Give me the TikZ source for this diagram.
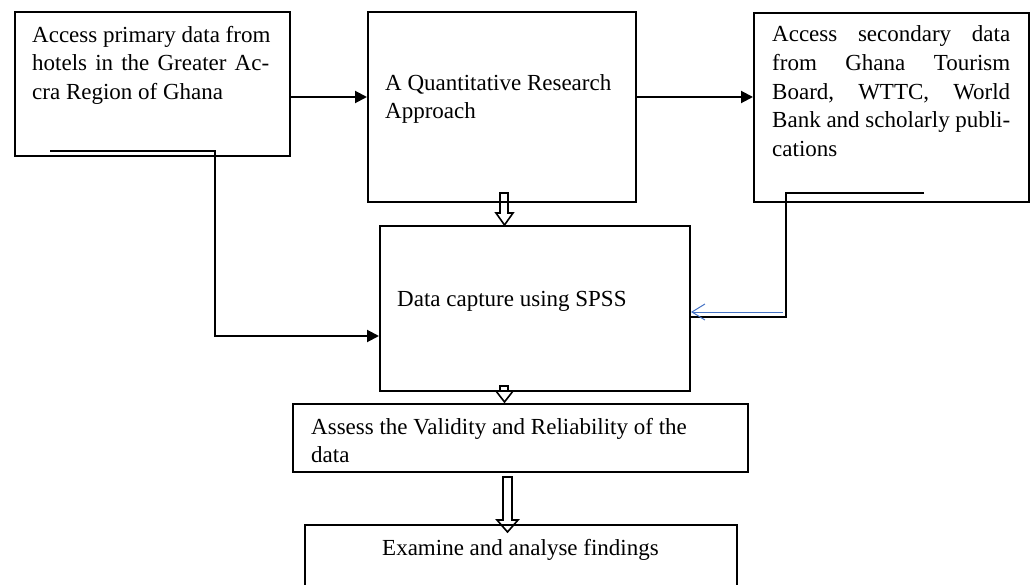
\documentclass[tikz,border=0pt]{standalone}
\usepackage{fontspec}
\setmainfont{Liberation Serif}
\usetikzlibrary{arrows.meta,calc}
\definecolor{wordblue}{RGB}{68,114,196}
\begin{document}
\begin{tikzpicture}[x=1pt,y=-1pt,
  box/.style={draw, line width=2pt, rectangle, inner sep=0pt, anchor=north west},
  txt/.style={anchor=base west, inner sep=0pt, font=\fontsize{23}{28.4}\selectfont},
  conn/.style={line width=2pt, -{Triangle[length=12pt,width=12pt]}},
  hollow/.style={draw, line width=1.6pt, fill=white, line join=miter}]
\path[use as bounding box] (0,0) rectangle (1030,585);
\clip (0,0) rectangle (1030,585);

% hollow arrows (drawn first, borders go over them)
\draw[hollow] (500,193) -- (508,193) -- (508,213) -- (513,213) -- (504.5,225) -- (496,213) -- (500,213) -- cycle;
\draw[hollow] (500,386) -- (508,386) -- (508,391) -- (513,391) -- (504.5,402) -- (496,391) -- (500,391) -- cycle;
\draw[hollow] (503,477) -- (512,477) -- (512,520) -- (518,520) -- (507.5,532) -- (497,520) -- (503,520) -- cycle;

% boxes
\node[box, minimum width=275pt, minimum height=144pt] (A) at (14,11) {};
\node[box, minimum width=268pt, minimum height=190pt] (B) at (367,11) {};
\node[box, minimum width=275pt, minimum height=189pt] (C) at (753,12) {};
\node[box, minimum width=310pt, minimum height=165pt] (D) at (379,225) {};
\node[box, minimum width=455pt, minimum height=68pt] (E) at (292,403) {};
\node[box, minimum width=432pt, minimum height=100pt] (F) at (304,524) {};

% texts
\node[txt] (A1) at (32,42.5) {Access primary data from};
\node[txt] (A2) at (32,71) {\hbox to 237pt{hotels\hfill in\hfill the\hfill Greater\hfill Ac-}};
\node[txt] (A3) at (32,99.5) {cra Region of Ghana};

\node[txt] (B1) at (385,90.5) {A Quantitative Research};
\node[txt] (B2) at (385,119) {Approach};

\node[txt] (C1) at (772,42) {\hbox to 238pt{Access\hfill secondary\hfill data}};
\node[txt] (C2) at (772,71) {\hbox to 238pt{from\hfill Ghana\hfill Tourism}};
\node[txt] (C3) at (772,100) {\hbox to 238pt{Board,\hfill WTTC,\hfill World}};
\node[txt] (C4) at (772,128) {\hbox to 238pt{Bank and scholarly\hfill publi-}};
\node[txt] (C5) at (772,157) {cations};

\node[txt] (D1) at (397,306) {Data capture using SPSS};

\node[txt] (E1) at (311,434) {Assess the Validity and Reliability of the};
\node[txt] (E2) at (311,462) {data};

\node[txt] (F1) at (382,555) {Examine and analyse findings};

% connectors
\draw[conn] (A.east |- 0,97) -- (B.west |- 0,97);
\draw[conn] (B.east |- 0,97) -- (C.west |- 0,97);

\coordinate (a1) at (50,151);
\coordinate (a2) at (215,151);
\coordinate (a3) at (215,336);
\draw[conn] (a1) -- (a2) -- (a3) -- (D.west |- a3);

\coordinate (c1) at (924,193);
\coordinate (c2) at (786,193);
\coordinate (c3) at (786,317);
\draw[line width=2pt] (c1) -- (c2) -- (c3) -- (D.east |- c3);
\coordinate (c4) at (783,312);
\draw[wordblue, line width=1pt, -{Straight Barb[length=13pt,width=16pt]}] (c4) -- (D.east |- c4);
\end{tikzpicture}
\end{document}
